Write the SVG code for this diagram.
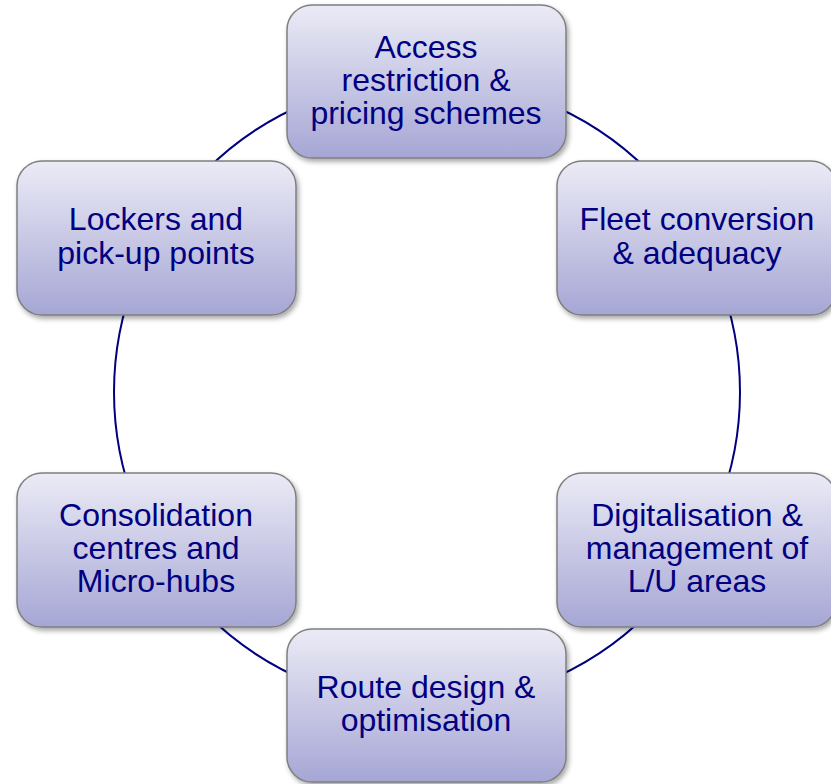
<svg xmlns="http://www.w3.org/2000/svg" width="831" height="784" viewBox="0 0 831 784">
<defs>
<linearGradient id="g" x1="0" y1="0" x2="0" y2="1">
<stop offset="0" stop-color="#ebebf6"/>
<stop offset="1" stop-color="#a6a6d5"/>
</linearGradient>
<filter id="sh" x="-10%" y="-10%" width="125%" height="125%">
<feDropShadow dx="2" dy="3" stdDeviation="2.5" flood-color="#000" flood-opacity="0.35"/>
</filter>
<style>
.box{fill:url(#g);stroke:#7f7f7f;stroke-width:1.5;filter:url(#sh)}
.t{font-family:"Liberation Sans",Arial,sans-serif;font-size:32px;fill:#000080;text-anchor:middle}
.c{fill:none;stroke:#000080;stroke-width:2}
</style>
</defs>
<rect width="831" height="784" fill="#fff"/>
<g id="connectors">
<circle class="c" cx="427" cy="392" r="313"/>
</g>
<g id="node-access">
<rect class="box" x="287" y="5" width="279" height="153" rx="25"/>
<text class="t" x="426" y="58">Access</text>
<text class="t" x="426" y="91">restriction &amp;</text>
<text class="t" x="426" y="124">pricing schemes</text>
</g>
<g id="node-fleet">
<rect class="box" x="557" y="161" width="279" height="154" rx="25"/>
<text class="t" x="697" y="230">Fleet conversion</text>
<text class="t" x="697" y="264">&amp; adequacy</text>
</g>
<g id="node-lockers">
<rect class="box" x="17" y="161" width="279" height="154" rx="25"/>
<text class="t" x="156" y="230">Lockers and</text>
<text class="t" x="156" y="264">pick-up points</text>
</g>
<g id="node-digital">
<rect class="box" x="557" y="473" width="279" height="154" rx="25"/>
<text class="t" x="697" y="526">Digitalisation &amp;</text>
<text class="t" x="697" y="559">management of</text>
<text class="t" x="697" y="592">L/U areas</text>
</g>
<g id="node-consolidation">
<rect class="box" x="17" y="473" width="279" height="154" rx="25"/>
<text class="t" x="156" y="526">Consolidation</text>
<text class="t" x="156" y="559">centres and</text>
<text class="t" x="156" y="592">Micro-hubs</text>
</g>
<g id="node-route">
<rect class="box" x="287" y="629" width="279" height="153" rx="25"/>
<text class="t" x="426" y="698">Route design &amp;</text>
<text class="t" x="426" y="731">optimisation</text>
</g>
</svg>
